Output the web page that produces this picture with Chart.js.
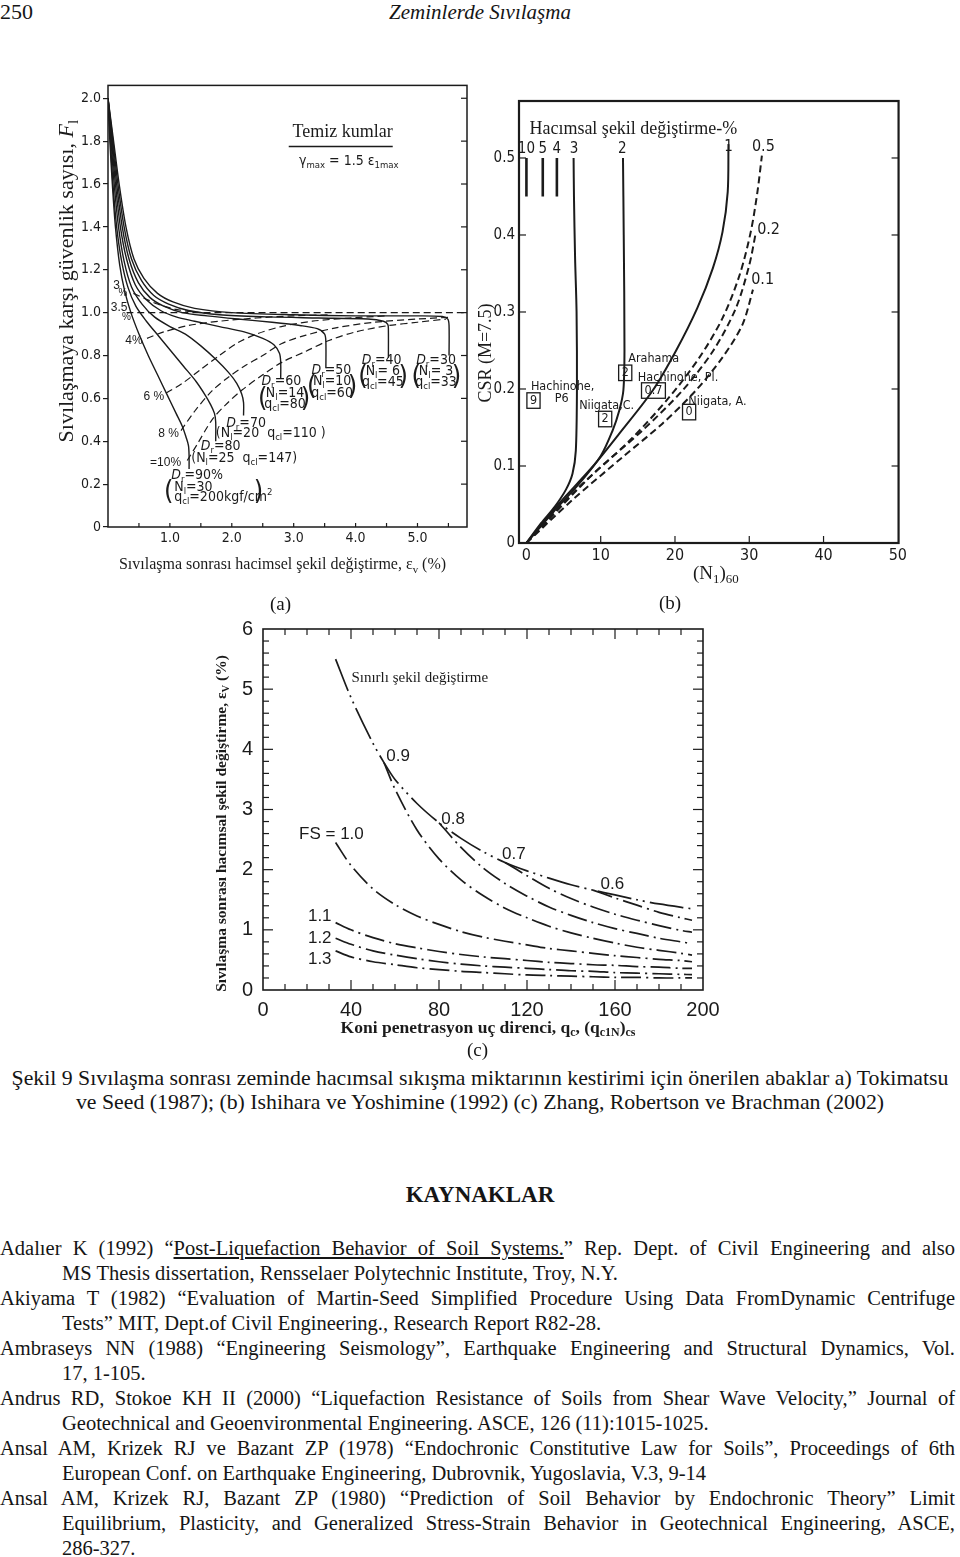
<!DOCTYPE html>
<html lang="tr">
<head>
<meta charset="UTF-8">
<title>Zeminlerde Sıvılaşma - Şekil 9</title>
<script src="https://cdn.jsdelivr.net/npm/chart.js"></script>
<style>
  body {
    margin: 0;
    width: 960px;
    height: 1557px;
    position: relative;
    overflow: hidden;
    background: #fff;
    color: #151515;
    font-family: "Liberation Serif", "Times New Roman", serif;
  }
  canvas { position: absolute; }
  .abs { position: absolute; }
  .lbl { position: absolute; font-size: 19px; line-height: 22px; }
  .refs { position: absolute; left: 0; top: 1236px; width: 955px; font-size: 20.5px; line-height: 25px; }
  .refs div { height: 25px; white-space: nowrap; }
  .refs .f { text-align: justify; text-align-last: justify; }
  .refs .in { padding-left: 62px; }
</style>
</head>
<body>

<div class="abs" style="left:0;top:0;font-size:22px;line-height:24px">250</div>
<div class="abs" style="left:0;top:0;width:960px;text-align:center;font-style:italic;font-size:21px;line-height:24px">Zeminlerde Sıvılaşma</div>

<canvas id="chartA" width="420" height="510" style="left:55px;top:75px"></canvas>
<canvas id="chartB" width="432" height="500" style="left:478px;top:88px"></canvas>
<canvas id="chartC" width="550" height="440" style="left:205px;top:607px"></canvas>

<div class="lbl" style="left:270px;top:593px">(a)</div>
<div class="lbl" style="left:659px;top:592px">(b)</div>
<div class="lbl" style="left:467px;top:1039px">(c)</div>

<div class="abs" style="left:0;top:1066px;width:960px;text-align:center;font-size:21.8px;line-height:24px">
  Şekil 9 Sıvılaşma sonrası zeminde hacımsal sıkışma miktarının kestirimi için önerilen abaklar a) Tokimatsu<br>
  ve Seed (1987); (b) Ishihara ve Yoshimine (1992) (c) Zhang, Robertson ve Brachman (2002)
</div>

<div class="abs" style="left:0;top:1181px;width:960px;text-align:center;font-size:23px;line-height:28px;font-weight:bold">KAYNAKLAR</div>

<div class="refs">
  <div class="f">Adalıer K (1992) “<u>Post-Liquefaction Behavior of Soil Systems.</u>” Rep. Dept. of Civil Engineering and also</div>
  <div class="in">MS Thesis dissertation, Rensselaer Polytechnic Institute, Troy, N.Y.</div>
  <div class="f">Akiyama T (1982) “Evaluation of Martin-Seed Simplified Procedure Using Data FromDynamic Centrifuge</div>
  <div class="in">Tests” MIT, Dept.of Civil Engineering., Research Report R82-28.</div>
  <div class="f">Ambraseys NN (1988) “Engineering Seismology”, Earthquake Engineering and Structural Dynamics, Vol.</div>
  <div class="in">17, 1-105.</div>
  <div class="f">Andrus RD, Stokoe KH II (2000) “Liquefaction Resistance of Soils from Shear Wave Velocity,” Journal of</div>
  <div class="in">Geotechnical and Geoenvironmental Engineering. ASCE, 126 (11):1015-1025.</div>
  <div class="f">Ansal AM, Krizek RJ ve Bazant ZP (1978) “Endochronic Constitutive Law for Soils”, Proceedings of 6th</div>
  <div class="in">European Conf. on Earthquake Engineering, Dubrovnik, Yugoslavia, V.3, 9-14</div>
  <div class="f">Ansal AM, Krizek RJ, Bazant ZP (1980) “Prediction of Soil Behavior by Endochronic Theory” Limit</div>
  <div class="in f">Equilibrium, Plasticity, and Generalized Stress-Strain Behavior in Geotechnical Engineering, ASCE,</div>
  <div class="in">286-327.</div>
</div>

<script>
// ---------- (a) Tokimatsu & Seed: Fl vs volumetric strain ----------
const aXTicks = [1, 2, 3, 4, 5];
const aYTicks = [0, 0.2, 0.4, 0.6, 0.8, 1.0, 1.2, 1.4, 1.6, 1.8, 2.0];

// solid curves, one per relative density
const aDr90X = [0.00, 0.03, 0.07, 0.12, 0.19, 0.27, 0.37, 0.50, 0.65, 0.80, 0.95, 1.10, 1.20, 1.26, 1.30, 1.31, 1.31];
const aDr90Y = [2.00, 1.80, 1.60, 1.40, 1.22, 1.10, 1.00, 0.90, 0.80, 0.71, 0.62, 0.53, 0.47, 0.42, 0.38, 0.33, 0.27];
const aDr80X = [0.00, 0.04, 0.08, 0.14, 0.22, 0.32, 0.45, 0.62, 0.82, 1.02, 1.22, 1.42, 1.56, 1.66, 1.72, 1.74, 1.74];
const aDr80Y = [2.00, 1.80, 1.60, 1.40, 1.24, 1.12, 1.03, 0.96, 0.89, 0.82, 0.75, 0.68, 0.62, 0.57, 0.53, 0.49, 0.40];
const aDr70X = [0.00, 0.05, 0.10, 0.17, 0.26, 0.38, 0.55, 0.75, 1.00, 1.25, 1.50, 1.75, 1.95, 2.08, 2.16, 2.19, 2.19];
const aDr70Y = [2.00, 1.80, 1.60, 1.40, 1.24, 1.12, 1.04, 0.98, 0.935, 0.90, 0.845, 0.78, 0.72, 0.67, 0.62, 0.58, 0.52];
const aDr60X = [0.00, 0.06, 0.12, 0.20, 0.30, 0.44, 0.62, 0.85, 1.10, 1.40, 1.80, 2.20, 2.50, 2.68, 2.77, 2.79, 2.79];
const aDr60Y = [2.00, 1.80, 1.60, 1.40, 1.25, 1.13, 1.06, 1.01, 0.98, 0.96, 0.935, 0.91, 0.88, 0.85, 0.81, 0.77, 0.69];
const aDr50X = [0.00, 0.07, 0.14, 0.23, 0.34, 0.49, 0.68, 0.90, 1.20, 1.60, 2.10, 2.65, 3.10, 3.38, 3.50, 3.52, 3.52];
const aDr50Y = [2.00, 1.80, 1.60, 1.40, 1.25, 1.14, 1.07, 1.03, 1.00, 0.985, 0.97, 0.955, 0.94, 0.925, 0.90, 0.86, 0.74];
const aDr40X = [0.00, 0.08, 0.16, 0.26, 0.38, 0.54, 0.74, 0.98, 1.30, 1.80, 2.60, 3.40, 4.20, 4.45, 4.52, 4.53, 4.53];
const aDr40Y = [2.00, 1.80, 1.60, 1.40, 1.25, 1.15, 1.08, 1.04, 1.01, 0.99, 0.98, 0.975, 0.97, 0.96, 0.945, 0.92, 0.79];
const aDr30X = [0.00, 0.09, 0.18, 0.29, 0.42, 0.58, 0.80, 1.05, 1.40, 2.00, 3.00, 4.00, 5.00, 5.40, 5.49, 5.51, 5.51];
const aDr30Y = [2.00, 1.80, 1.60, 1.40, 1.25, 1.16, 1.09, 1.05, 1.02, 1.00, 0.99, 0.985, 0.985, 0.982, 0.97, 0.94, 0.80];

// dashed strain contours
const aS3X = [0.41, 0.60, 0.80, 1.10, 1.50];
const aS3Y = [1.09, 1.065, 1.04, 1.015, 1.00];
const aS35X = [0.30, 5.80];
const aS35Y = [1.00, 1.00];
const aS4X = [0.63, 0.90, 1.30, 1.80, 2.40, 3.00, 3.60];
const aS4Y = [0.88, 0.91, 0.94, 0.96, 0.975, 0.985, 0.99];
const aS6X = [0.94, 1.20, 1.50, 1.80, 2.10, 2.40, 2.80, 3.30, 3.90, 4.50];
const aS6Y = [0.625, 0.67, 0.735, 0.80, 0.86, 0.90, 0.935, 0.96, 0.975, 0.985];
const aS8X = [1.18, 1.40, 1.68, 1.95, 2.20, 2.50, 2.80, 3.20, 3.70, 4.30, 5.00, 5.50];
const aS8Y = [0.45, 0.54, 0.635, 0.70, 0.75, 0.80, 0.855, 0.895, 0.93, 0.955, 0.97, 0.978];
const aS10X = [1.28, 1.45, 1.68, 1.90, 2.17, 2.50, 2.82, 3.20, 3.57, 4.00, 4.54, 5.00, 5.46];
const aS10Y = [0.31, 0.39, 0.50, 0.57, 0.64, 0.71, 0.77, 0.82, 0.87, 0.91, 0.94, 0.955, 0.97];
const aUnderX = [2.92, 4.60];
const aUnderY = [1.775, 1.775];

// ---------- (b) Ishihara & Yoshimine: CSR vs (N1)60 ----------
const bXTicks = [0, 10, 20, 30, 40, 50];
const bYTicks = [0, 0.1, 0.2, 0.3, 0.4, 0.5];
const bC10X = [0.0, 0.0];  const bC10Y = [0.45, 0.50];
const bC5X = [2.2, 2.2];   const bC5Y = [0.45, 0.50];
const bC4X = [4.1, 4.1];   const bC4Y = [0.45, 0.50];
const bC3X = [0, 2.0, 3.8, 5.3, 6.2, 6.65, 6.8, 6.75, 6.55, 6.4, 6.35];
const bC3Y = [0, 0.026, 0.047, 0.069, 0.09, 0.12, 0.20, 0.30, 0.37, 0.45, 0.50];
const bC2X = [0, 3.5, 7.1, 10.0, 11.6, 12.5, 13.05, 13.2, 13.1, 13.0];
const bC2Y = [0, 0.039, 0.077, 0.113, 0.146, 0.172, 0.198, 0.25, 0.40, 0.50];
const bC1X = [0, 4.0, 8.9, 12.5, 17.0, 20.1, 23.0, 25.1, 26.4, 27.1, 27.2];
const bC1Y = [0, 0.047, 0.099, 0.142, 0.198, 0.249, 0.305, 0.357, 0.404, 0.456, 0.518];
const bD05X = [0, 6.7, 13.9, 19.2, 23.3, 26.4, 28.7, 30.2, 31.1, 31.7];
const bD05Y = [0, 0.069, 0.133, 0.189, 0.241, 0.292, 0.348, 0.404, 0.456, 0.503];
const bD02X = [0, 8.9, 15.6, 21.0, 25.1, 28.2, 30.0, 30.9];
const bD02Y = [0, 0.089, 0.146, 0.198, 0.249, 0.305, 0.361, 0.404];
const bD01X = [0, 6.2, 13.0, 18.3, 22.8, 26.4, 29.1, 30.5];
const bD01Y = [0, 0.056, 0.112, 0.155, 0.198, 0.241, 0.284, 0.329];

// ---------- (c) Zhang, Robertson & Brachman: strain vs qc1N ----------
const cXTicks = [0, 40, 80, 120, 160, 200];
const cYTicks = [0, 1, 2, 3, 4, 5, 6];
const cLimX = [33, 40, 50, 55, 60, 70, 80, 90, 100, 110, 120, 130, 140, 150, 160, 170, 180, 195];
const cLimY = [5.5, 4.86, 4.1, 3.78, 3.5, 3.1, 2.78, 2.52, 2.3, 2.12, 1.98, 1.86, 1.75, 1.66, 1.58, 1.5, 1.43, 1.35];
const cFs06X = [150, 160, 170, 180, 190, 195];
const cFs06Y = [1.66, 1.53, 1.41, 1.29, 1.2, 1.16];
const cFs07X = [110, 120, 130, 140, 150, 160, 170, 180, 190, 195];
const cFs07Y = [2.12, 1.9, 1.69, 1.52, 1.38, 1.26, 1.16, 1.07, 0.99, 0.96];
const cFs08X = [80, 90, 100, 110, 120, 130, 140, 150, 160, 170, 180, 190, 195];
const cFs08Y = [2.78, 2.37, 2.03, 1.77, 1.56, 1.38, 1.24, 1.12, 1.02, 0.94, 0.86, 0.8, 0.77];
const cFs09X = [55, 60, 70, 80, 90, 100, 110, 120, 130, 140, 150, 160, 170, 180, 190, 195];
const cFs09Y = [3.78, 3.34, 2.66, 2.18, 1.83, 1.57, 1.36, 1.2, 1.06, 0.95, 0.86, 0.78, 0.71, 0.66, 0.61, 0.58];
const cQX = [33, 40, 50, 60, 70, 80, 90, 100, 110, 120, 130, 140, 150, 160, 170, 180, 190, 195];
const cFs10Y = [2.45, 2.07, 1.68, 1.42, 1.23, 1.09, 0.97, 0.88, 0.81, 0.75, 0.69, 0.65, 0.61, 0.57, 0.54, 0.51, 0.49, 0.47];
const cFs11Y = [1.12, 1.0, 0.87, 0.77, 0.70, 0.64, 0.59, 0.55, 0.52, 0.49, 0.46, 0.44, 0.42, 0.41, 0.39, 0.38, 0.36, 0.36];
const cFs12Y = [0.86, 0.76, 0.65, 0.58, 0.52, 0.47, 0.43, 0.40, 0.38, 0.36, 0.34, 0.32, 0.31, 0.29, 0.28, 0.27, 0.26, 0.255];
const cFs13Y = [0.65, 0.55, 0.47, 0.42, 0.37, 0.34, 0.31, 0.29, 0.27, 0.25, 0.24, 0.23, 0.22, 0.21, 0.21, 0.20, 0.20, 0.20];

// ---------- helpers ----------
const INK = '#1b1b1b';
const SANS = '"Liberation Sans", Arial, sans-serif';
const NARROW = '"Liberation Sans Narrow", "DejaVu Sans Condensed", "Liberation Sans", sans-serif';
const SERIF = '"Liberation Serif", "Times New Roman", serif';

function ser(xs, ys, extra) {
  return Object.assign({
    data: xs.map((x, i) => ({ x: x, y: ys[i] })),
    showLine: true, pointRadius: 0, borderColor: INK, borderWidth: 1.4,
    tension: 0.3, fill: false
  }, extra || {});
}
function ticksAt(vals) { return axis => { axis.ticks = vals.map(v => ({ value: v })); }; }
function fix(size) { return axis => { if (axis.isHorizontal()) axis.height = size; else axis.width = size; }; }
function num(v) { return v === 0 ? '0' : v.toFixed(1); }
function steps(a, b, d) { const out = []; for (let v = a; v <= b + 1e-9; v += d) out.push(+v.toFixed(3)); return out; }

// tiny rich text: _{sub} ^{sup} ~{italic}
function parseRich(s) {
  const out = []; let buf = '', i = 0;
  while (i < s.length) {
    const c = s[i];
    if ((c === '_' || c === '^' || c === '~') && s[i + 1] === '{') {
      if (buf) { out.push({ t: buf, k: '' }); buf = ''; }
      const j = s.indexOf('}', i);
      out.push({ t: s.slice(i + 2, j), k: c });
      i = j + 1;
    } else { buf += c; i++; }
  }
  if (buf) out.push({ t: buf, k: '' });
  return out;
}
function drawRich(ctx, s, x, y, o) {
  const size = o.size || 14, fam = o.fam || SANS, wt = o.weight || 'normal';
  const segs = parseRich(s);
  const fontFor = k => ((k === '~' || o.italic) ? 'italic ' : '') + wt + ' ' +
    ((k === '_' || k === '^') ? size * 0.68 : size) + 'px ' + fam;
  let w = 0;
  segs.forEach(g => { ctx.font = fontFor(g.k); g.w = ctx.measureText(g.t).width; w += g.w; });
  const align = o.align || 'center';
  let cx = align === 'center' ? x - w / 2 : align === 'right' ? x - w : x;
  ctx.textBaseline = 'middle';
  ctx.textAlign = 'left';
  if (o.box) {
    ctx.lineWidth = 1.3;
    ctx.strokeRect(cx - 3, y - size * 0.62, w + 6, size * 1.24);
  }
  segs.forEach(g => {
    ctx.font = fontFor(g.k);
    const dy = g.k === '_' ? size * 0.3 : g.k === '^' ? -size * 0.35 : 0;
    ctx.fillText(g.t, cx, y + dy);
    cx += g.w;
  });
}

// frame, inward ticks, labels and axis titles
const deco = {
  id: 'deco',
  afterDraw(chart, args, o) {
    const ctx = chart.ctx, a = chart.chartArea;
    const sx = chart.scales.x, sy = chart.scales.y;
    ctx.save();
    ctx.strokeStyle = INK;
    ctx.fillStyle = INK;
    ctx.lineWidth = o.frameWidth || 1.5;
    ctx.strokeRect(a.left, a.top, a.right - a.left, a.bottom - a.top);
    ctx.lineWidth = o.tickWidth || 1.2;
    (o.ticks || []).forEach(t => {
      t.values.forEach(v => {
        const len = (t.major && t.major.includes(v)) ? t.majorLen : t.len;
        ctx.beginPath();
        if (t.side === 'left' || t.side === 'right') {
          const p = sy.getPixelForValue(v);
          const x0 = t.side === 'left' ? a.left : a.right;
          ctx.moveTo(x0, p);
          ctx.lineTo(x0 + (t.side === 'left' ? len : -len), p);
        } else {
          const p = sx.getPixelForValue(v);
          const y0 = t.side === 'bottom' ? a.bottom : a.top;
          ctx.moveTo(p, y0);
          ctx.lineTo(p, y0 + (t.side === 'bottom' ? -len : len));
        }
        ctx.stroke();
      });
    });
    (o.texts || []).forEach(t => drawRich(ctx, t.s, sx.getPixelForValue(t.x), sy.getPixelForValue(t.y), t));
    if (o.xTitle) {
      const t = o.xTitle;
      drawRich(ctx, t.s, (a.left + a.right) / 2 + (t.dx || 0), a.bottom + t.dy, t);
    }
    if (o.yTitle) {
      const t = o.yTitle;
      ctx.save();
      ctx.translate(a.left + t.dx, (a.top + a.bottom) / 2 + (t.dy || 0));
      ctx.rotate(-Math.PI / 2);
      drawRich(ctx, t.s, 0, 0, t);
      ctx.restore();
    }
    ctx.restore();
  }
};

function baseOptions(pad, plug) {
  return {
    responsive: false, animation: false, events: [],
    layout: { padding: pad },
    plugins: { legend: { display: false }, tooltip: { enabled: false }, deco: plug }
  };
}
const noGrid = { display: false, drawTicks: false };

// ---------- chart (a) ----------
const dashA = { borderDash: [7, 4], borderWidth: 1.2, tension: 0.3 };
const optA = baseOptions({ top: 7, right: 8, left: 0, bottom: 0 }, {
  frameWidth: 1.5,
  ticks: [
    { side: 'right', values: steps(0.2, 2.0, 0.2), len: 6 },
    { side: 'bottom', values: steps(0.5, 5.5, 0.5), len: 4 }
  ],
  texts: [
    { x: 3.79, y: 1.84, s: 'Temiz kumlar', size: 18, fam: SERIF },
    { x: 3.89, y: 1.705, s: 'γ_{max} = 1.5 ε_{1max}', size: 14, fam: NARROW },
    { x: 0.14, y: 1.126, s: '3', size: 12 },
    { x: 0.24, y: 1.09, s: '%', size: 10 },
    { x: 0.18, y: 1.025, s: '3.5', size: 12 },
    { x: 0.30, y: 0.98, s: '%', size: 10 },
    { x: 0.42, y: 0.871, s: '4%', size: 12 },
    { x: 0.74, y: 0.61, s: '6 %', size: 12 },
    { x: 0.98, y: 0.433, s: '8 %', size: 12 },
    { x: 0.93, y: 0.30, s: '=10%', size: 12 },
    { x: 2.80, y: 0.678, s: '~{D}_{r}=60', fam: NARROW },
    { x: 2.86, y: 0.624, s: 'N_{l}=14', fam: NARROW },
    { x: 2.86, y: 0.570, s: 'q_{cl}=80', fam: NARROW },
    { x: 2.50, y: 0.597, s: '(', size: 27, fam: NARROW },
    { x: 3.19, y: 0.597, s: ')', size: 27, fam: NARROW },
    { x: 3.61, y: 0.732, s: '~{D}_{r}=50', fam: NARROW },
    { x: 3.62, y: 0.678, s: 'N_{l}=10', fam: NARROW },
    { x: 3.62, y: 0.624, s: 'q_{cl}=60', fam: NARROW },
    { x: 3.29, y: 0.651, s: '(', size: 27, fam: NARROW },
    { x: 3.95, y: 0.651, s: ')', size: 27, fam: NARROW },
    { x: 4.42, y: 0.778, s: '~{D}_{r}=40', fam: NARROW },
    { x: 4.44, y: 0.724, s: 'N_{l}= 6', fam: NARROW },
    { x: 4.44, y: 0.674, s: 'q_{cl}=45', fam: NARROW },
    { x: 4.12, y: 0.70, s: '(', size: 27, fam: NARROW },
    { x: 4.77, y: 0.70, s: ')', size: 27, fam: NARROW },
    { x: 5.30, y: 0.778, s: '~{D}_{r}=30', fam: NARROW },
    { x: 5.30, y: 0.724, s: 'N_{l}= 3', fam: NARROW },
    { x: 5.30, y: 0.674, s: 'q_{cl}=33', fam: NARROW },
    { x: 4.98, y: 0.70, s: '(', size: 27, fam: NARROW },
    { x: 5.63, y: 0.70, s: ')', size: 27, fam: NARROW },
    { x: 2.23, y: 0.485, s: '~{D}_{r}=70', fam: NARROW },
    { x: 2.63, y: 0.436, s: '(N_{l}=20  q_{cl}=110 )', fam: NARROW },
    { x: 1.82, y: 0.377, s: '~{D}_{r}=80', fam: NARROW },
    { x: 2.20, y: 0.319, s: '(N_{l}=25  q_{cl}=147)', fam: NARROW },
    { x: 1.44, y: 0.239, s: '~{D}_{r}=90%', fam: NARROW },
    { x: 1.07, y: 0.185, s: 'N_{l}=30', fam: NARROW, align: 'left' },
    { x: 1.07, y: 0.139, s: 'q_{cl}=200kgf/cm^{2}', fam: NARROW, align: 'left' },
    { x: 0.98, y: 0.162, s: '(', size: 27, fam: NARROW },
    { x: 2.43, y: 0.162, s: ')', size: 27, fam: NARROW }
  ],
  xTitle: { s: 'Sıvılaşma sonrası hacimsel şekil değiştirme, ε_{v} (%)', size: 16, fam: SERIF, dx: -5, dy: 38 },
  yTitle: { s: 'Sıvılaşmaya karşı güvenlik sayısı, ~{F}_{l}', size: 22, fam: SERIF, dx: -41, dy: -25 }
});
optA.scales = {
  x: {
    type: 'linear', min: 0, max: 5.8, afterFit: fix(58), afterBuildTicks: ticksAt(aXTicks),
    ticks: { font: { family: NARROW, size: 14 }, color: INK, padding: 3, maxRotation: 0, callback: num },
    grid: noGrid, border: { display: false }
  },
  y: {
    type: 'linear', min: 0, max: 2.06, afterFit: fix(53), afterBuildTicks: ticksAt(aYTicks),
    ticks: { font: { family: NARROW, size: 14 }, color: INK, padding: 2, callback: num },
    grid: { drawOnChartArea: false, drawTicks: true, tickLength: 5, color: INK, lineWidth: 1.2 },
    border: { display: false }
  }
};
new Chart(document.getElementById('chartA'), {
  type: 'scatter',
  data: {
    datasets: [
      ser(aDr90X, aDr90Y), ser(aDr80X, aDr80Y), ser(aDr70X, aDr70Y), ser(aDr60X, aDr60Y),
      ser(aDr50X, aDr50Y), ser(aDr40X, aDr40Y), ser(aDr30X, aDr30Y),
      ser(aS3X, aS3Y, dashA), ser(aS35X, aS35Y, dashA), ser(aS4X, aS4Y, dashA),
      ser(aS6X, aS6Y, dashA), ser(aS8X, aS8Y, dashA), ser(aS10X, aS10Y, dashA),
      ser(aUnderX, aUnderY, { borderWidth: 1.3, tension: 0 })
    ]
  },
  options: optA,
  plugins: [deco]
});

// ---------- chart (b) ----------
const solidB = { borderWidth: 2, tension: 0.3 };
const dashB = { borderWidth: 2, borderDash: [7, 4], tension: 0.3 };
const barB = { borderWidth: 2.6, tension: 0 };
const siteFont = { size: 12.5, fam: NARROW };
const optB = baseOptions({ top: 10, right: 11, left: 0, bottom: 0 }, {
  frameWidth: 2.2,
  ticks: [
    { side: 'left', values: steps(0.1, 0.5, 0.1), len: 7 },
    { side: 'right', values: steps(0.1, 0.5, 0.1), len: 7 },
    { side: 'bottom', values: [10, 20, 30, 40], len: 7 }
  ],
  texts: [
    { x: 0.4, y: 0.537, s: 'Hacımsal şekil değiştirme-%', size: 18, fam: SERIF, align: 'left' },
    { x: 0.0, y: 0.512, s: '10', size: 15, fam: NARROW },
    { x: 2.2, y: 0.512, s: '5', size: 15, fam: NARROW },
    { x: 4.1, y: 0.512, s: '4', size: 15, fam: NARROW },
    { x: 6.4, y: 0.512, s: '3', size: 15, fam: NARROW },
    { x: 12.9, y: 0.512, s: '2', size: 15, fam: NARROW },
    { x: 27.2, y: 0.514, s: '1', size: 15, fam: NARROW },
    { x: 31.9, y: 0.515, s: '0.5', size: 16, fam: NARROW },
    { x: 32.6, y: 0.407, s: '0.2', size: 16, fam: NARROW },
    { x: 31.8, y: 0.342, s: '0.1', size: 16, fam: NARROW },
    Object.assign({ x: 0.6, y: 0.203, s: 'Hachinohe,', align: 'left' }, siteFont),
    Object.assign({ x: 3.8, y: 0.187, s: 'P6', align: 'left' }, siteFont),
    Object.assign({ x: 0.95, y: 0.185, s: '9', box: true }, siteFont),
    Object.assign({ x: 7.1, y: 0.178, s: 'Niigata,C.', align: 'left' }, siteFont),
    Object.assign({ x: 10.6, y: 0.161, s: '2', box: true }, siteFont),
    Object.assign({ x: 13.7, y: 0.239, s: 'Arahama', align: 'left' }, siteFont),
    Object.assign({ x: 13.3, y: 0.221, s: '2', box: true }, siteFont),
    Object.assign({ x: 15.0, y: 0.215, s: 'Hachinohe, Pl.', align: 'left' }, siteFont),
    Object.assign({ x: 17.1, y: 0.198, s: '0.7', box: true }, siteFont),
    Object.assign({ x: 21.8, y: 0.184, s: 'Niigata, A.', align: 'left' }, siteFont),
    Object.assign({ x: 21.9, y: 0.170, s: '0', box: true }, siteFont)
  ],
  xTitle: { s: '(N_{1})_{60}', size: 19, fam: SERIF, dx: 7, dy: 31 },
  yTitle: { s: 'CSR (M=7.5)', size: 18, fam: SERIF, dx: -33, dy: 31 }
});
optB.scales = {
  x: {
    type: 'linear', min: -1, max: 50.1, afterFit: fix(45), afterBuildTicks: ticksAt(bXTicks),
    ticks: { font: { family: NARROW, size: 16 }, color: INK, padding: 3, maxRotation: 0 },
    grid: noGrid, border: { display: false }
  },
  y: {
    type: 'linear', min: 0, max: 0.574, afterFit: fix(41), afterBuildTicks: ticksAt(bYTicks),
    ticks: { font: { family: NARROW, size: 15 }, color: INK, padding: 4, callback: num },
    grid: noGrid, border: { display: false }
  }
};
new Chart(document.getElementById('chartB'), {
  type: 'scatter',
  data: {
    datasets: [
      ser(bC10X, bC10Y, barB), ser(bC5X, bC5Y, barB), ser(bC4X, bC4Y, barB),
      ser(bC3X, bC3Y, solidB), ser(bC2X, bC2Y, solidB), ser(bC1X, bC1Y, solidB),
      ser(bD05X, bD05Y, dashB), ser(bD02X, bD02Y, dashB), ser(bD01X, bD01Y, dashB)
    ]
  },
  options: optB,
  plugins: [deco]
});

// ---------- chart (c) ----------
const fsC = { borderWidth: 1.7, borderDash: [20, 5, 2, 5], tension: 0.3 };
const limC = { borderWidth: 1.7, borderDash: [34, 5, 2, 5, 2, 5], tension: 0.3 };
const numC = { size: 17, fam: SANS };
const optC = baseOptions({ top: 15, right: 52, left: 0, bottom: 0 }, {
  frameWidth: 1.6,
  ticks: [
    { side: 'bottom', values: steps(10, 190, 10), len: 6, major: cXTicks, majorLen: 10 },
    { side: 'top', values: steps(10, 190, 10), len: 6, major: cXTicks, majorLen: 10 },
    { side: 'left', values: steps(0.2, 5.8, 0.2), len: 6, major: cYTicks, majorLen: 10 },
    { side: 'right', values: steps(0.2, 5.8, 0.2), len: 6, major: cYTicks, majorLen: 10 }
  ],
  texts: [
    { x: 40.2, y: 5.19, s: 'Sınırlı şekil değiştirme', size: 15, fam: SERIF, align: 'left' },
    Object.assign({ x: 61.4, y: 3.89, s: '0.9' }, numC),
    Object.assign({ x: 86.4, y: 2.84, s: '0.8' }, numC),
    Object.assign({ x: 114, y: 2.26, s: '0.7' }, numC),
    Object.assign({ x: 158.8, y: 1.76, s: '0.6' }, numC),
    Object.assign({ x: 31.1, y: 2.59, s: 'FS = 1.0' }, numC),
    Object.assign({ x: 25.8, y: 1.22, s: '1.1' }, numC),
    Object.assign({ x: 25.8, y: 0.86, s: '1.2' }, numC),
    Object.assign({ x: 25.8, y: 0.51, s: '1.3' }, numC)
  ],
  xTitle: { s: 'Koni penetrasyon uç direnci, q_{c}, (q_{c1N})_{cs}', size: 17.5, fam: SERIF, weight: 'bold', dx: 5, dy: 38 },
  yTitle: { s: 'Sıvılaşma sonrası hacımsal şekil değiştirme, ε_{V} (%)', size: 15.5, fam: SERIF, weight: 'bold', dx: -41, dy: 14 }
});
optC.scales = {
  x: {
    type: 'linear', min: 0, max: 200, afterFit: fix(57), afterBuildTicks: ticksAt(cXTicks),
    ticks: { font: { family: SANS, size: 20 }, color: INK, padding: 8, maxRotation: 0 },
    grid: noGrid, border: { display: false }
  },
  y: {
    type: 'linear', min: 0, max: 6, afterFit: fix(58), afterBuildTicks: ticksAt(cYTicks),
    ticks: { font: { family: SANS, size: 20 }, color: INK, padding: 10 },
    grid: noGrid, border: { display: false }
  }
};
new Chart(document.getElementById('chartC'), {
  type: 'scatter',
  data: {
    datasets: [
      ser(cLimX, cLimY, limC),
      ser(cFs06X, cFs06Y, fsC), ser(cFs07X, cFs07Y, fsC), ser(cFs08X, cFs08Y, fsC), ser(cFs09X, cFs09Y, fsC),
      ser(cQX, cFs10Y, fsC), ser(cQX, cFs11Y, fsC), ser(cQX, cFs12Y, fsC), ser(cQX, cFs13Y, fsC)
    ]
  },
  options: optC,
  plugins: [deco]
});
</script>
</body>
</html>
